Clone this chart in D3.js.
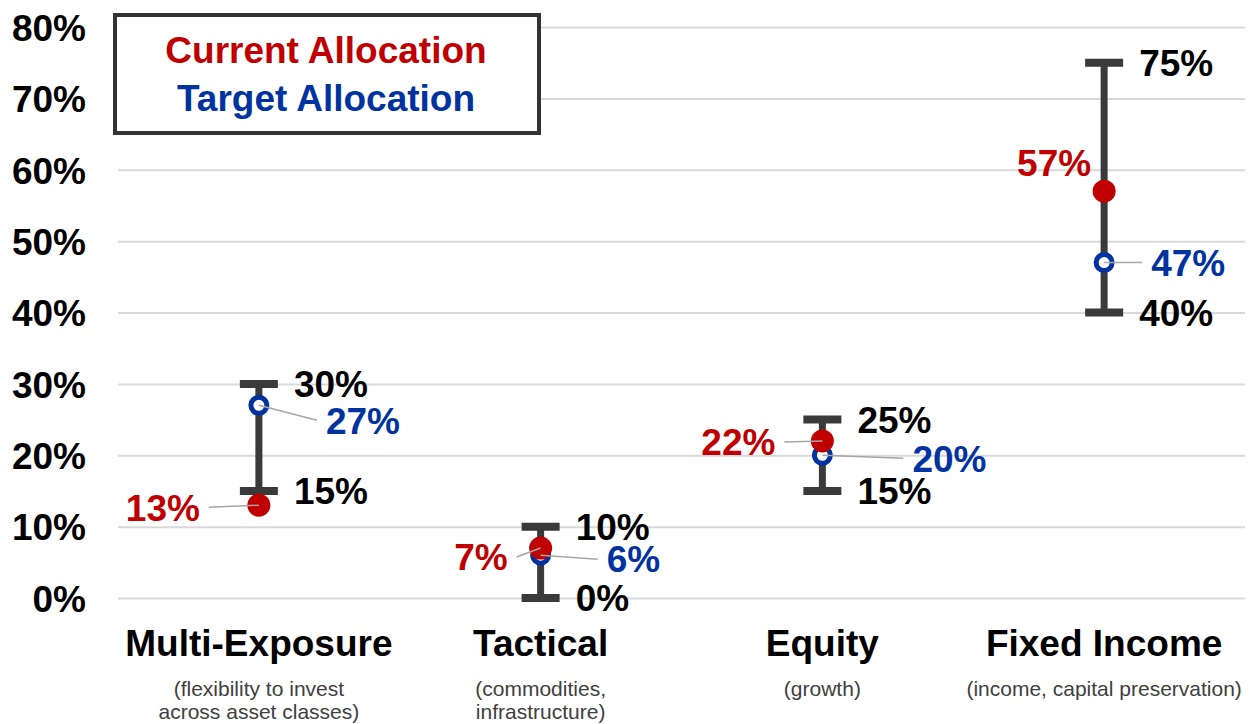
<!DOCTYPE html>
<html>
<head>
<meta charset="utf-8">
<script src="https://cdn.jsdelivr.net/npm/d3@7"></script>
<style>
    body { margin: 0; background: #fff; }
    svg text { font-family: "Liberation Sans", Arial, sans-serif; }
</style>
</head>
<body>
<svg id="chart" width="1251" height="724"></svg>
<script>
'use strict';

// chart values
var categories = ["Multi-Exposure", "Tactical", "Equity", "Fixed Income"];
var subtitles  = [
    ["(flexibility to invest", "across asset classes)"],
    ["(commodities,", "infrastructure)"],
    ["(growth)"],
    ["(income, capital preservation)"]
];
var rangeLow   = [15, 0, 15, 40];
var rangeHigh  = [30, 10, 25, 75];
var current    = [13, 7, 22, 57];
var target     = [27, 6, 20, 47];
var yTicks     = [0, 10, 20, 30, 40, 50, 60, 70, 80];
var legendText = ["Current Allocation", "Target Allocation"];

// label placement (dx, dy from the marker), kept apart from the values
var currentLabelNudge = [[-59, 2], [-33, 9], [-47, 1], [-13, -28]];
var targetLabelNudge  = [[67, 15], [66, 4], [90, 3], [47, 0]];

var RED   = "#c00000",
    BLUE  = "#0033a0",
    BAR   = "#3a3a3a",
    GRID  = "#d9d9d9",
    LEAD  = "#a6a6a6";

var svg = d3.select("#chart");

var x = d3.scaleBand().domain(categories).range([118, 1245]);
var y = d3.scaleLinear().domain([0, 80]).range([598, 27]);

function cx(d) { return x(d) + x.bandwidth() / 2; }
function pct(v) { return v + "%"; }

// gridlines
var grid = svg.append("g")
    .attr("transform", "translate(118,0)")
    .call(d3.axisLeft(y).tickValues(yTicks).tickSize(-(1245 - 118)).tickFormat(""));
grid.select(".domain").remove();
grid.selectAll(".tick line").attr("stroke", GRID).attr("stroke-width", 2);

// y tick labels
var yAxis = svg.append("g")
    .attr("transform", "translate(86,0)")
    .call(d3.axisLeft(y).tickValues(yTicks).tickSize(0).tickPadding(0).tickFormat(pct));
yAxis.select(".domain").remove();
yAxis.selectAll(".tick text")
    .attr("font-size", 37)
    .attr("font-weight", "bold")
    .attr("fill", "#000")
    .attr("font-family", "Liberation Sans, Arial, sans-serif")
    .attr("dy", "0.36em");

// category labels
var cat = svg.append("g").selectAll("g").data(categories).enter().append("g")
    .attr("transform", function(d) { return "translate(" + cx(d) + ",0)"; });
cat.append("text")
    .attr("y", 656)
    .attr("text-anchor", "middle")
    .attr("font-size", 37)
    .attr("font-weight", "bold")
    .attr("fill", "#000")
    .text(function(d) { return d; });
cat.each(function(d, i) {
    d3.select(this).selectAll("text.sub").data(subtitles[i]).enter().append("text")
        .attr("class", "sub")
        .attr("y", function(s, j) { return 696 + j * 23; })
        .attr("text-anchor", "middle")
        .attr("font-size", 21)
        .attr("fill", "#404040")
        .text(function(s) { return s; });
});

// error bars with caps
var rows = categories.map(function(c, i) {
    return { cat: c, lo: rangeLow[i], hi: rangeHigh[i], cur: current[i], tgt: target[i], i: i };
});

var bars = svg.append("g").selectAll("g").data(rows).enter().append("g");
bars.append("line")
    .attr("x1", function(d) { return cx(d.cat); })
    .attr("x2", function(d) { return cx(d.cat); })
    .attr("y1", function(d) { return y(d.lo); })
    .attr("y2", function(d) { return y(d.hi); })
    .attr("stroke", BAR).attr("stroke-width", 7);
["lo", "hi"].forEach(function(k) {
    bars.append("line")
        .attr("x1", function(d) { return cx(d.cat) - 19; })
        .attr("x2", function(d) { return cx(d.cat) + 19; })
        .attr("y1", function(d) { return y(d[k]); })
        .attr("y2", function(d) { return y(d[k]); })
        .attr("stroke", BAR).attr("stroke-width", 8);
    bars.append("text")
        .attr("x", function(d) { return cx(d.cat) + 35; })
        .attr("y", function(d) { return y(d[k]); })
        .attr("dy", "0.36em")
        .attr("font-size", 37)
        .attr("font-weight", "bold")
        .attr("fill", "#000")
        .text(function(d) { return pct(d[k]); });
});

// markers
svg.append("g").selectAll("circle").data(rows).enter().append("circle")
    .attr("cx", function(d) { return cx(d.cat); })
    .attr("cy", function(d) { return y(d.tgt); })
    .attr("r", 8)
    .attr("fill", "#fff")
    .attr("stroke", BLUE)
    .attr("stroke-width", 5);
svg.append("g").selectAll("circle").data(rows).enter().append("circle")
    .attr("cx", function(d) { return cx(d.cat); })
    .attr("cy", function(d) { return y(d.cur); })
    .attr("r", 11.5)
    .attr("fill", RED);

// value labels with leader lines
function valueLabels(key, nudge, color, anchor) {
    var side = anchor === "end" ? 1 : -1;
    var g = svg.append("g").selectAll("g").data(rows).enter().append("g");
    g.each(function(d) {
        var px = cx(d.cat), py = y(d[key]),
            lx = px + nudge[d.i][0], ly = py + nudge[d.i][1],
            ex = lx + side * 9;
        if (Math.abs(ex - px) > 20) {
            d3.select(this).append("line")
                .attr("x1", px).attr("y1", py)
                .attr("x2", ex).attr("y2", ly)
                .attr("stroke", LEAD).attr("stroke-width", 1.5);
        }
        d3.select(this).append("text")
            .attr("x", lx).attr("y", ly)
            .attr("dy", "0.36em")
            .attr("text-anchor", anchor)
            .attr("font-size", 37)
            .attr("font-weight", "bold")
            .attr("fill", color)
            .text(pct(d[key]));
    });
}
valueLabels("cur", currentLabelNudge, RED, "end");
valueLabels("tgt", targetLabelNudge, BLUE, "start");

// legend box
var legend = svg.append("g");
legend.append("rect")
    .attr("x", 115).attr("y", 15)
    .attr("width", 424).attr("height", 118)
    .attr("fill", "#fff")
    .attr("stroke", "#333").attr("stroke-width", 4);
legend.selectAll("text").data(legendText).enter().append("text")
    .attr("x", 326)
    .attr("y", function(d, i) { return 50 + i * 48; })
    .attr("dy", "0.36em")
    .attr("text-anchor", "middle")
    .attr("font-size", 37)
    .attr("font-weight", "bold")
    .attr("fill", function(d, i) { return i === 0 ? RED : BLUE; })
    .text(function(d) { return d; });
</script>
</body>
</html>
